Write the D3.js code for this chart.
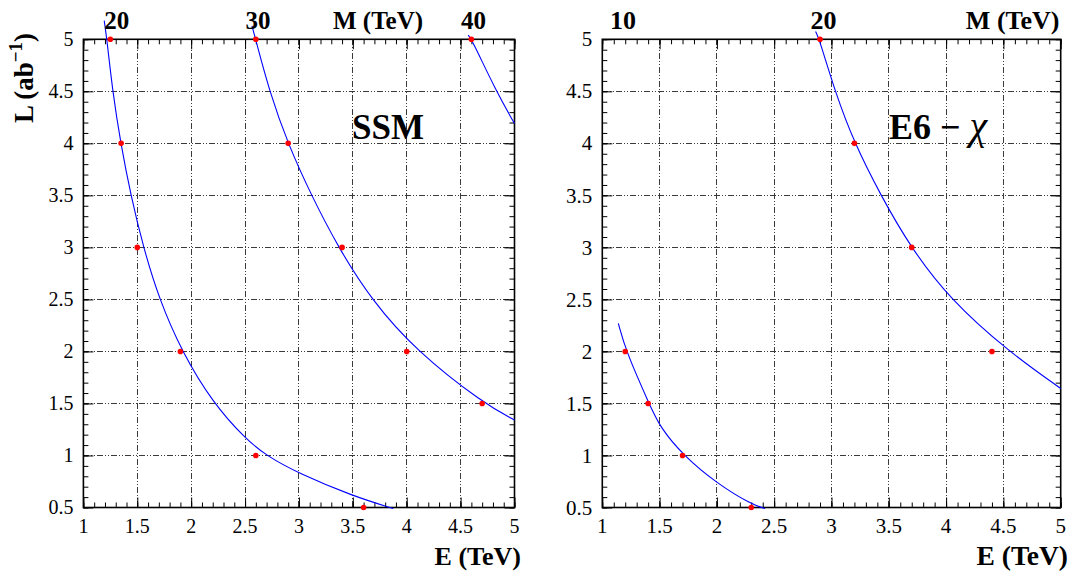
<!DOCTYPE html>
<html><head><meta charset="utf-8">
<script src="https://cdn.jsdelivr.net/npm/d3@7"></script>
<style>body{margin:0;background:#fff}svg{display:block}</style>
</head><body>
<svg id="chart" width="1070" height="571"></svg>
<script>
// ---------- data ----------
const xTickValues = [1, 1.5, 2, 2.5, 3, 3.5, 4, 4.5, 5];
const xTickLabels = ["1", "1.5", "2", "2.5", "3", "3.5", "4", "4.5", "5"];
const yTickValues = [0.5, 1, 1.5, 2, 2.5, 3, 3.5, 4, 4.5, 5];
const yTickLabels = ["0.5", "1", "1.5", "2", "2.5", "3", "3.5", "4", "4.5", "5"];

// SSM panel: discovery points (E in TeV, L in ab^-1) for M = 20, 30, 40 TeV
const ssmPoints20 = [[1.25, 5], [1.35, 4], [1.5, 3], [1.9, 2], [2.6, 1], [3.6, 0.5]];
const ssmPoints30 = [[2.6, 5], [2.9, 4], [3.4, 3], [4.0, 2], [4.7, 1.5]];
const ssmPoints40 = [[4.6, 5]];
// SSM panel: fitted curves
const ssmFit20 = [[1.193, 5.18], [1.218, 5], [1.271, 4.5], [1.346, 4], [1.44, 3.5], [1.556, 3],
                  [1.704, 2.5], [1.912, 2], [2.205, 1.5], [2.5, 1.165], [2.694, 1], [3.0, 0.826],
                  [3.5, 0.61], [3.875, 0.49]];
const ssmFit30 = [[2.564, 5.13], [2.598, 5], [2.726, 4.5], [2.896, 4], [3.115, 3.5], [3.365, 3],
                  [3.668, 2.5], [4.092, 2], [4.713, 1.5], [5.0, 1.34]];
const ssmFit40 = [[4.57, 5.04], [4.603, 5], [4.83, 4.5], [5.0, 4.19]];

// E6-chi panel: points for M = 10, 20 TeV
const e6Points10 = [[1.2, 2], [1.4, 1.5], [1.7, 1], [2.3, 0.5]];
const e6Points20 = [[2.9, 5], [3.2, 4], [3.7, 3], [4.4, 2]];
const e6Fit10 = [[1.14, 2.27], [1.207, 2], [1.408, 1.5], [1.5, 1.277], [1.707, 1],
                 [2.0, 0.731], [2.306, 0.527], [2.42, 0.49]];
const e6Fit20 = [[2.861, 5.075], [2.894, 5], [3.03, 4.5], [3.2, 4], [3.43, 3.5], [3.69, 3],
                 [4.034, 2.5], [4.543, 2], [5.0, 1.644]];

// mass labels on the curves (text, E position)
const ssmMassLabels = [["20", 1.31], ["30", 2.62], ["40", 4.62]];
const e6MassLabels = [["10", 1.18], ["20", 2.93]];

// ---------- drawing ----------
const svg = d3.select("#chart");
const FONT = "'Liberation Serif','Times New Roman',Times,serif";

const yScale = d3.scaleLinear().domain([0.5, 5]).range([507.5, 39.3]);
const minorX = d3.range(10, 51).map(i => i / 10);
const minorY = d3.range(5, 51).map(i => i / 10);

function drawPanel(cfg) {
  const x = d3.scaleLinear().domain([1, 5]).range([cfg.x0, cfg.x1]);
  const y = yScale;
  const g = svg.append("g");
  const top = y(5), bot = y(0.5), left = x(1), right = x(5);

  // grid
  const grid = g.append("g").attr("stroke", "#3a3a3a").attr("stroke-width", 1)
    .attr("stroke-dasharray", "6,2,1,2,1,2").attr("shape-rendering", "crispEdges");
  grid.selectAll(".vx").data(xTickValues.slice(1, -1)).join("line")
    .attr("x1", d => x(d)).attr("x2", d => x(d)).attr("y1", top).attr("y2", bot);
  grid.selectAll(".hy").data(yTickValues.slice(1, -1)).join("line")
    .attr("x1", left).attr("x2", right).attr("y1", d => y(d)).attr("y2", d => y(d));

  // ticks on all four sides (pointing inward)
  const tk = (axis, tx, ty, vals, size) => {
    const a = g.append("g").attr("transform", `translate(${tx},${ty})`)
      .call(axis.tickValues(vals).tickSize(size).tickFormat(""));
    a.select(".domain").remove();
    a.selectAll("line").attr("stroke", "#000").attr("stroke-width", 1);
  };
  tk(d3.axisBottom(x), 0, bot, xTickValues, -10);
  tk(d3.axisBottom(x), 0, bot, minorX, -5);
  tk(d3.axisTop(x), 0, top, xTickValues, -10);
  tk(d3.axisTop(x), 0, top, minorX, -5);
  tk(d3.axisLeft(y), left, 0, yTickValues, -10);
  tk(d3.axisLeft(y), left, 0, minorY, -5);
  tk(d3.axisRight(y), right, 0, yTickValues, -10);
  tk(d3.axisRight(y), right, 0, minorY, -5);

  // frame
  g.append("rect").attr("x", left).attr("y", top).attr("width", right - left).attr("height", bot - top)
    .attr("fill", "none").attr("stroke", "#000").attr("stroke-width", 1.6);

  // tick labels
  g.selectAll(".xl").data(xTickValues).join("text")
    .attr("x", d => x(d)).attr("y", 533.3).attr("text-anchor", "middle")
    .attr("font-family", FONT).attr("font-size", cfg.tickFont)
    .text((d, i) => xTickLabels[i]);
  g.selectAll(".yl").data(yTickValues).join("text")
    .attr("x", left - 10).attr("y", d => y(d)).attr("dy", "0.34em").attr("text-anchor", "end")
    .attr("font-family", FONT).attr("font-size", cfg.tickFont)
    .text((d, i) => yTickLabels[i]);

  // x axis title
  g.append("text").attr("x", cfg.titleEnd).attr("y", 564.5).attr("text-anchor", "end")
    .attr("font-family", FONT).attr("font-weight", "bold").attr("font-size", cfg.titleFont)
    .text("E (TeV)");

  // fit curves
  const line = d3.line().x(d => x(d[0])).y(d => y(d[1])).curve(d3.curveBasis);
  g.selectAll(".fit").data(cfg.fits).join("path")
    .attr("d", line).attr("fill", "none").attr("stroke", "#0000ff").attr("stroke-width", 1.1);

  // points
  cfg.points.forEach(pts => {
    g.selectAll(null).data(pts).join("circle")
      .attr("cx", d => x(d[0])).attr("cy", d => y(d[1])).attr("r", 2.8).attr("fill", "#ff0000");
  });

  // mass labels above frame
  g.selectAll(".ml").data(cfg.massLabels).join("text")
    .attr("x", d => x(d[1])).attr("y", 28.7).attr("text-anchor", "middle")
    .attr("font-family", FONT).attr("font-weight", "bold").attr("font-size", cfg.topFont)
    .text(d => d[0]);
  g.append("text").attr("x", cfg.mPos).attr("y", 28.7).attr("text-anchor", cfg.mAnchor)
    .attr("font-family", FONT).attr("font-weight", "bold").attr("font-size", cfg.topFont)
    .text("M (TeV)");

  // model name
  const t = g.append("text").attr("x", cfg.nameX).attr("y", 138.6)
    .attr("font-family", FONT).attr("font-weight", "bold").attr("font-size", cfg.nameFont);
  cfg.name(t);
}

drawPanel({
  x0: 83.4, x1: 514.5, tickFont: 20, titleFont: 26, titleEnd: 521, topFont: 25,
  fits: [ssmFit20, ssmFit30, ssmFit40], points: [ssmPoints20, ssmPoints30, ssmPoints40],
  massLabels: ssmMassLabels, mPos: 378, mAnchor: "middle",
  nameX: 352, nameFont: 35, name: t => t.text("SSM")
});
drawPanel({
  x0: 602.3, x1: 1060.7, tickFont: 21, titleFont: 27.5, titleEnd: 1068, topFont: 26,
  fits: [e6Fit10, e6Fit20], points: [e6Points10, e6Points20],
  massLabels: e6MassLabels, mPos: 1059.5, mAnchor: "end",
  nameX: 889, nameFont: 36, name: t => {
    t.append("tspan").text("E6 \u2212 ");
    t.append("tspan").attr("font-weight", "normal").attr("font-style", "italic")
      .attr("font-size", 40).text("\u03C7");
  }
});

// y axis title (left panel only)
const yt = svg.append("text").attr("transform", "translate(33,33) rotate(-90)")
  .attr("text-anchor", "end").attr("font-family", FONT).attr("font-weight", "bold").attr("font-size", 27);
yt.append("tspan").text("L (ab");
yt.append("tspan").attr("dy", -11).attr("font-size", 19).text("\u22121");
yt.append("tspan").attr("dy", 11).text(")");
</script>
</body></html>
